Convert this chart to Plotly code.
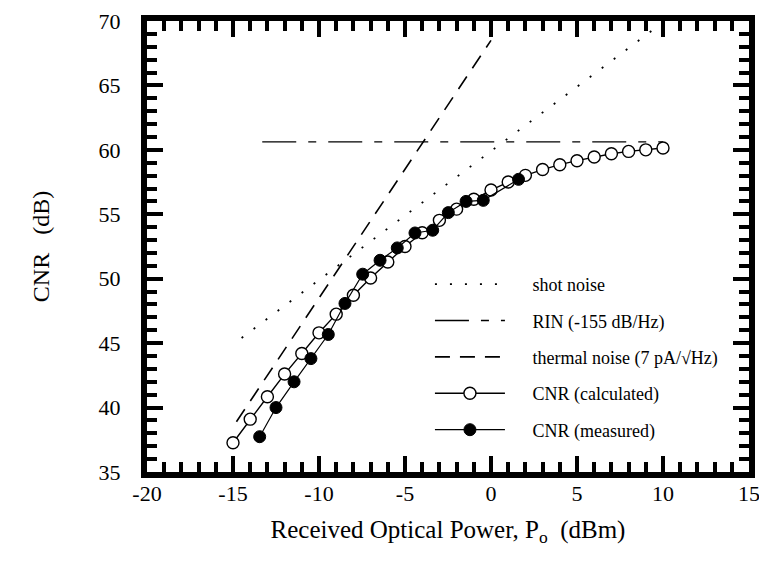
import plotly.graph_objects as go

# ---- data ----
calc_x = [-15, -14, -13, -12, -11, -10, -9, -8, -7, -6, -5, -4, -3, -2, -1, 0,
          1, 2, 3, 4, 5, 6, 7, 8, 9, 10]
calc_y = [37.27, 39.1, 40.84, 42.6, 44.2, 45.8, 47.25, 48.72, 50.05, 51.3, 52.5,
          53.57, 54.53, 55.4, 56.17, 56.88, 57.5, 58.02, 58.47, 58.85, 59.16,
          59.44, 59.7, 59.88, 60.0, 60.14]

meas_x = [-13.45, -12.5, -11.45, -10.47, -9.46, -8.49, -7.46, -6.45, -5.45,
          -4.42, -3.39, -2.48, -1.45, -0.45, 1.6]
meas_y = [37.74, 40.0, 42.0, 43.8, 45.67, 48.08, 50.35, 51.43, 52.39, 53.55,
          53.76, 55.13, 56.0, 56.08, 57.71]

shot_x = [-14.5, 10.1]
shot_y = [45.4, 70.0]

rin_x = [-13.3, 10.0]
rin_y = [60.62, 60.62]

thermal_x = [-14.8, 0.0]
thermal_y = [38.9, 68.5]

x_ticks = [-20, -15, -10, -5, 0, 5, 10, 15]
y_ticks = [35, 40, 45, 50, 55, 60, 65, 70]

FONT = "Liberation Serif"
PAD = "\u00a0" * 5

fig = go.Figure()

fig.add_trace(go.Scatter(x=shot_x, y=shot_y, mode="lines", name=PAD + "shot noise",
                         legendgroup="a",
                         line=dict(color="black", width=1.8, dash="2px,13px")))
fig.add_trace(go.Scatter(x=rin_x, y=rin_y, mode="lines", name=PAD + "RIN (-155 dB/Hz)",
                         legendgroup="b",
                         line=dict(color="black", width=1.4, dash="34px,12px,8px,12px")))
fig.add_trace(go.Scatter(x=thermal_x, y=thermal_y, mode="lines",
                         name=PAD + "thermal noise (7 pA/√Hz)", legendgroup="c",
                         line=dict(color="black", width=1.6, dash="15px,10px")))
fig.add_trace(go.Scatter(x=calc_x, y=calc_y, mode="lines+markers",
                         name=PAD + "CNR (calculated)", legendgroup="d",
                         line=dict(color="black", width=1.4),
                         marker=dict(symbol="circle", size=12, color="white",
                                     line=dict(color="black", width=1.4))))
fig.add_trace(go.Scatter(x=meas_x, y=meas_y, mode="lines+markers",
                         name=PAD + "CNR (measured)", legendgroup="e",
                         line=dict(color="black", width=1.2),
                         marker=dict(symbol="circle", size=12, color="black",
                                     line=dict(color="black", width=1))))

axis_common = dict(
    showline=True, linecolor="black", linewidth=6, mirror="allticks",
    ticks="inside", ticklen=16, tickwidth=4, tickcolor="black",
    showgrid=False, zeroline=False, automargin=False,
    ticklabeloverflow="allow",
    tickfont=dict(family=FONT, size=22, color="black"),
    minor=dict(ticks="inside", ticklen=10, tickwidth=4, tickcolor="black",
               dtick=1, showgrid=False),
)

fig.update_xaxes(range=[-20, 15], tickvals=x_ticks, ticktext=[str(v) for v in x_ticks],
                 ticklabelstandoff=-3,
                 title=dict(text="Received Optical Power, P<sub>o</sub>\u00a0\u00a0(dBm)",
                            font=dict(family=FONT, size=25, color="black"),
                            standoff=17),
                 **axis_common)
fig.update_yaxes(range=[35, 70], tickvals=y_ticks, ticktext=[str(v) for v in y_ticks],
                 ticklabelstandoff=16,
                 title=dict(text="CNR\u00a0\u00a0\u00a0(dB)",
                            font=dict(family=FONT, size=24, color="black"),
                            standoff=44),
                 **axis_common)

# page body has an 8px margin: figure is sized/offset so the plot lands where the reference's does
fig.update_layout(
    width=751, height=545,
    margin=dict(l=139, r=10, t=13, b=81),
    paper_bgcolor="white", plot_bgcolor="white",
    showlegend=True,
    legend=dict(x=0.47, y=0.457, xanchor="left", yanchor="top",
                bgcolor="rgba(0,0,0,0)", borderwidth=0,
                traceorder="grouped", tracegroupgap=10, itemwidth=70,
                font=dict(family=FONT, size=18, color="black")),
)

fig.write_html("out.html")
